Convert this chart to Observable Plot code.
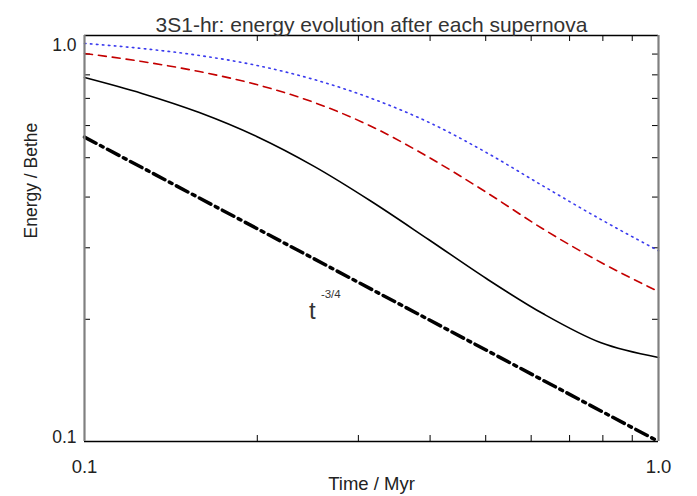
<!DOCTYPE html>
<html><head><meta charset="utf-8">
<script src="https://cdn.jsdelivr.net/npm/d3@7"></script>
<script src="https://cdn.jsdelivr.net/npm/@observablehq/plot@0.6"></script>
<style>body{margin:0;background:#fff;} svg{display:block;}</style>
</head><body><div id="chart"></div>
<script>
const time = [0.1, 0.1259, 0.1585, 0.1995, 0.2512, 0.3162, 0.3981, 0.5012, 0.6310, 0.7943, 1.0];
const energyBlue = [0.956, 0.929, 0.893, 0.844, 0.779, 0.700, 0.611, 0.515, 0.425, 0.352, 0.295];
const energyRed = [0.903, 0.863, 0.815, 0.757, 0.684, 0.597, 0.501, 0.411, 0.333, 0.276, 0.234];
const energyBlack = [0.788, 0.720, 0.646, 0.564, 0.476, 0.390, 0.314, 0.252, 0.206, 0.175, 0.161];
const timePower = [0.1, 1.0];
const energyPower = [0.562, 0.1];
const minorTicks = [0.2, 0.3, 0.4, 0.5, 0.6, 0.7, 0.8, 0.9];
const labelPos = {t: 0.253, e: 0.21};

const W = 697, H = 496, mL = 84, mR = 39, mT = 35, mB = 55;
const fw = W - mL - mR, fh = H - mT - mB;
const font = "'Liberation Sans', Arial, sans-serif";
const series = (ts, es) => ts.map((t, i) => ({t, e: es[i]}));

const chart = Plot.plot({
  width: W, height: H,
  marginLeft: mL, marginRight: mR, marginTop: mT, marginBottom: mB,
  style: {fontFamily: font, background: "#fff"},
  x: {type: "log", domain: [0.1, 1.0], axis: null},
  y: {type: "log", domain: [0.1, 1.0], axis: null},
  marks: [
    // minor ticks (inward)
    Plot.tickX(minorTicks, {x: d => d, insetTop: fh - 6, stroke: "#000", strokeWidth: 1}),
    Plot.tickX(minorTicks, {x: d => d, insetBottom: fh - 6, stroke: "#000", strokeWidth: 1}),
    Plot.tickY(minorTicks, {y: d => d, insetRight: fw - 6, stroke: "#000", strokeWidth: 1}),
    Plot.tickY(minorTicks, {y: d => d, insetLeft: fw - 6, stroke: "#000", strokeWidth: 1}),
    // curves
    Plot.line(series(time, energyBlue), {x: "t", y: "e", stroke: "#3a3aee", strokeWidth: 1.6, strokeDasharray: "1.5,4.5", curve: "monotone-x"}),
    Plot.line(series(time, energyRed), {x: "t", y: "e", stroke: "#c40000", strokeWidth: 1.6, strokeDasharray: "8,6", curve: "monotone-x"}),
    Plot.line(series(time, energyBlack), {x: "t", y: "e", stroke: "#000", strokeWidth: 1.6, curve: "monotone-x"}),
    Plot.line(series(timePower, energyPower), {x: "t", y: "e", stroke: "#000", strokeWidth: 3.5, strokeDasharray: "13,5,3,5"}),
    // frame
    Plot.ruleY([0.1, 1.0], {stroke: "#000", strokeWidth: 1.6}),
    Plot.ruleX([0.1, 1.0], {stroke: "#808080", strokeWidth: 2.2}),
    // tick labels
    Plot.text([0.1], {x: d => d, frameAnchor: "bottom", dy: 31, text: d => "0.1", fontSize: 18.5, fill: "#222"}),
    Plot.text([1.0], {x: d => d, frameAnchor: "bottom", dy: 31, text: d => "1.0", fontSize: 18.5, fill: "#222"}),
    Plot.text([0.1], {y: d => d, frameAnchor: "left", dx: -8, dy: -4, textAnchor: "end", text: d => "0.1", fontSize: 17.5, fill: "#222"}),
    Plot.text([1.0], {y: d => d, frameAnchor: "left", dx: -8, dy: 10, textAnchor: "end", text: d => "1.0", fontSize: 17.5, fill: "#222"}),
    // annotation t^-3/4
    Plot.text([labelPos], {x: "t", y: "e", text: d => "t", fontSize: 24, fill: "#333", textAnchor: "start", dx: -7, dy: 1}),
    Plot.text([labelPos], {x: "t", y: "e", text: d => "-3/4", fontSize: 11.5, fill: "#333", textAnchor: "start", dx: 5, dy: -16}),
    // axis titles and title
    Plot.text(["Time / Myr"], {frameAnchor: "bottom", dy: 48, text: d => d, fontSize: 18.5, fill: "#222"}),
    Plot.text(["Energy / Bethe"], {frameAnchor: "left", dx: -53, rotate: -90, text: d => d, fontSize: 17.5, fill: "#222"}),
    Plot.text(["3S1-hr: energy evolution after each supernova"], {frameAnchor: "top", dy: -18, text: d => d, fontSize: 21, fill: "#333"})
  ]
});
document.getElementById("chart").appendChild(chart);
</script>
</body></html>
